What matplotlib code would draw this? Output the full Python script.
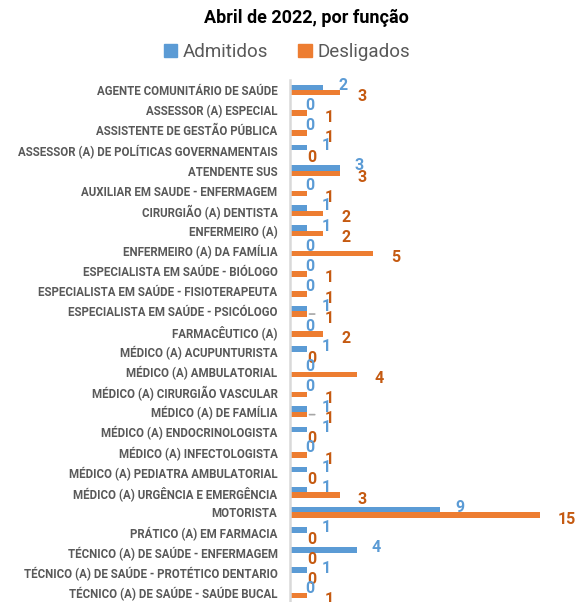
import numpy as np
import matplotlib; matplotlib.use("Agg")
import matplotlib.pyplot as plt
from matplotlib.patches import Patch

funcoes = ["AGENTE COMUNITÁRIO DE SAÚDE", "ASSESSOR (A) ESPECIAL",
           "ASSISTENTE DE GESTÃO PÚBLICA", "ASSESSOR (A) DE POLÍTICAS GOVERNAMENTAIS",
           "ATENDENTE SUS", "AUXILIAR EM SAUDE - ENFERMAGEM", "CIRURGIÃO (A) DENTISTA",
           "ENFERMEIRO (A)", "ENFERMEIRO (A) DA FAMÍLIA", "ESPECIALISTA EM SAÚDE - BIÓLOGO",
           "ESPECIALISTA EM SAÚDE - FISIOTERAPEUTA", "ESPECIALISTA EM SAÚDE - PSICÓLOGO",
           "FARMACÊUTICO (A)", "MÉDICO (A) ACUPUNTURISTA", "MÉDICO (A) AMBULATORIAL",
           "MÉDICO (A) CIRURGIÃO VASCULAR", "MÉDICO (A) DE FAMÍLIA",
           "MÉDICO (A) ENDOCRINOLOGISTA", "MÉDICO (A) INFECTOLOGISTA",
           "MÉDICO (A) PEDIATRA AMBULATORIAL", "MÉDICO (A) URGÊNCIA E EMERGÊNCIA",
           "MOTORISTA", "PRÁTICO (A) EM FARMACIA", "TÉCNICO (A) DE SAÚDE - ENFERMAGEM",
           "TÉCNICO (A) DE SAÚDE - PROTÉTICO DENTARIO", "TÉCNICO (A) DE SAÚDE - SAÚDE BUCAL"]
admitidos = [2, 0, 0, 1, 3, 0, 1, 1, 0, 0, 0, 1, 0, 1, 0, 0, 1, 1, 0, 1, 1, 9, 1, 4, 1, 0]
desligados = [3, 1, 1, 0, 3, 1, 2, 2, 5, 1, 1, 1, 2, 0, 4, 1, 1, 0, 1, 0, 3, 15, 0, 0, 0, 1]

BLUE, ORANGE = "#5B9BD5", "#ED7D31"
BLUE_TXT, ORANGE_TXT = "#5B9BD5", "#C55A11"
GRAY = "#595959"
plt.rcParams['font.family'] = ['Roboto', 'DejaVu Sans']

fig = plt.figure(figsize=(5.75, 6.02), dpi=100)
fig.patch.set_facecolor("white")
ax = fig.add_axes([290/575, 0.0, 285/575, (602-80)/602])

y = np.arange(len(funcoes))
h = 0.27
ax.barh(y - h/2, admitidos, height=h, color=BLUE, edgecolor='none')
ax.barh(y + h/2, desligados, height=h, color=ORANGE, edgecolor='none')

for i, (a, d) in enumerate(zip(admitidos, desligados)):
    ax.annotate(str(a), (a, i - h/2), xytext=(14, 1.5), textcoords='offset points',
                ha='center', va='center', fontsize=11.5, fontweight='bold', color=BLUE_TXT)
    ax.annotate(str(d), (d, i + h/2), xytext=(16 if d < 10 else 19, -3),
                textcoords='offset points', ha='center', va='center',
                fontsize=11.5, fontweight='bold', color=ORANGE_TXT)
    if a == d == 1 and i != 4:
        # leader line where labels collide
        ax.annotate('', (d, i + h/2), xytext=(d + 0.65, i + h/2),
                    arrowprops=dict(arrowstyle='-', color='#A6A6A6', lw=1.2))

ax.set_xlim(0, 17.07)
ax.set_ylim(25.45, -0.5)
ax.set_yticks(y)
ax.set_yticklabels(funcoes, fontsize=8.3, fontweight='bold', color=GRAY)
ax.tick_params(axis='y', length=0, pad=9)
ax.set_xticks([])
for s in ['top', 'right', 'bottom']:
    ax.spines[s].set_visible(False)
ax.spines['left'].set_color('#D9D9D9')
ax.spines['left'].set_linewidth(1.8)
ax.patch.set_alpha(0)

fig.text(306/575, 1 - 18/602, "Abril de 2022, por função", ha='center', va='center',
         fontsize=13, fontweight='bold', color='black')
handles = [Patch(color=BLUE, label='Admitidos'), Patch(color=ORANGE, label='Desligados')]
fig.legend(handles=handles, loc='center', bbox_to_anchor=(287/575, 1 - 52/602), ncol=2,
           frameon=False, fontsize=13.5, labelcolor=GRAY, handlelength=0.7,
           handleheight=0.7, handletextpad=0.3, columnspacing=1.6)

plt.savefig("out.png", dpi=100, facecolor='white')
plt.close(fig)
